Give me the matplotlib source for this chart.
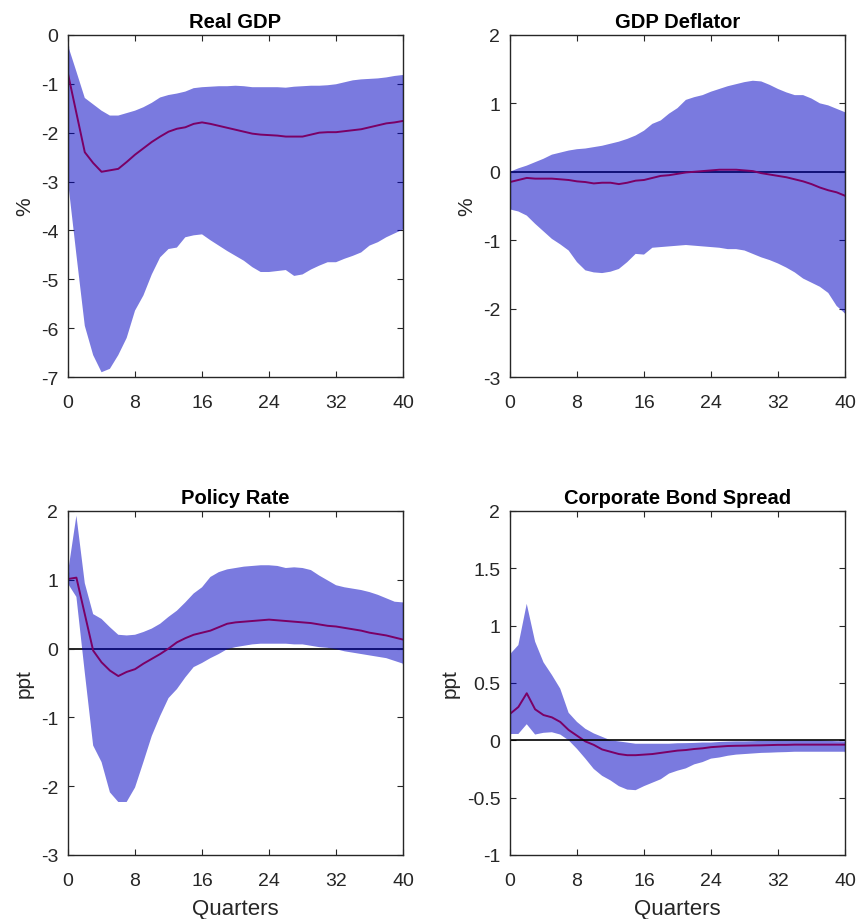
import numpy as np
import matplotlib
matplotlib.use("Agg")
from matplotlib import pyplot as plt

plt.rcParams['font.family'] = ['Liberation Sans', 'DejaVu Sans']
plt.rcParams['axes.unicode_minus'] = False

quarters = np.arange(0, 41)

gdp_median = [-0.80, -1.60, -2.40, -2.62, -2.80, -2.77, -2.74, -2.60, -2.45, -2.32,
              -2.19, -2.08, -1.98, -1.92, -1.89, -1.82, -1.79, -1.82, -1.86, -1.90,
              -1.94, -1.98, -2.02, -2.04, -2.05, -2.06, -2.08, -2.08, -2.08, -2.04,
              -2.00, -1.99, -1.99, -1.97, -1.95, -1.93, -1.89, -1.85, -1.81, -1.79, -1.76]
gdp_upper = [-0.22, -0.75, -1.29, -1.42, -1.55, -1.65, -1.65, -1.60, -1.55, -1.48,
             -1.39, -1.28, -1.23, -1.20, -1.16, -1.09, -1.07, -1.06, -1.05, -1.05,
             -1.04, -1.05, -1.07, -1.07, -1.07, -1.07, -1.08, -1.06, -1.05, -1.04,
             -1.04, -1.03, -1.01, -0.97, -0.93, -0.91, -0.90, -0.89, -0.87, -0.84, -0.82]
gdp_lower = [-3.00, -4.50, -5.95, -6.55, -6.90, -6.83, -6.55, -6.20, -5.64, -5.33,
             -4.90, -4.55, -4.38, -4.35, -4.14, -4.10, -4.08, -4.20, -4.31, -4.42,
             -4.52, -4.62, -4.75, -4.85, -4.85, -4.83, -4.81, -4.93, -4.90, -4.80,
             -4.72, -4.65, -4.65, -4.58, -4.52, -4.45, -4.31, -4.24, -4.14, -4.06, -3.98]

defl_median = [-0.15, -0.12, -0.09, -0.10, -0.10, -0.10, -0.11, -0.12, -0.14, -0.15,
               -0.17, -0.16, -0.16, -0.18, -0.16, -0.13, -0.12, -0.09, -0.06, -0.05,
               -0.03, -0.01, 0.00, 0.01, 0.02, 0.03, 0.03, 0.03, 0.02, 0.01,
               -0.02, -0.04, -0.06, -0.08, -0.11, -0.14, -0.18, -0.23, -0.27, -0.30, -0.35]
defl_upper = [0.00, 0.05, 0.09, 0.14, 0.19, 0.25, 0.28, 0.31, 0.33, 0.34,
              0.36, 0.38, 0.41, 0.44, 0.48, 0.53, 0.60, 0.70, 0.75, 0.85,
              0.93, 1.05, 1.09, 1.12, 1.17, 1.21, 1.25, 1.28, 1.31, 1.33,
              1.32, 1.27, 1.21, 1.16, 1.12, 1.12, 1.07, 1.00, 0.97, 0.92, 0.87]
defl_lower = [-0.55, -0.58, -0.64, -0.76, -0.87, -0.98, -1.06, -1.15, -1.32, -1.44,
              -1.47, -1.48, -1.46, -1.42, -1.32, -1.20, -1.21, -1.11, -1.10, -1.09,
              -1.08, -1.07, -1.08, -1.09, -1.10, -1.11, -1.13, -1.13, -1.15, -1.20,
              -1.25, -1.29, -1.34, -1.40, -1.47, -1.56, -1.62, -1.68, -1.77, -1.96, -2.07]

rate_median = [1.01, 1.03, 0.50, -0.03, -0.20, -0.32, -0.40, -0.34, -0.30, -0.22,
               -0.15, -0.08, 0.00, 0.09, 0.15, 0.20, 0.23, 0.26, 0.31, 0.36,
               0.38, 0.39, 0.40, 0.41, 0.42, 0.41, 0.40, 0.39, 0.38, 0.37,
               0.35, 0.33, 0.32, 0.30, 0.28, 0.26, 0.23, 0.21, 0.19, 0.16, 0.13]
rate_upper = [1.11, 1.93, 0.95, 0.50, 0.43, 0.31, 0.20, 0.19, 0.20, 0.24,
              0.29, 0.36, 0.46, 0.55, 0.67, 0.80, 0.89, 1.04, 1.11, 1.15,
              1.17, 1.19, 1.20, 1.21, 1.21, 1.20, 1.17, 1.18, 1.17, 1.14,
              1.06, 0.99, 0.92, 0.89, 0.87, 0.85, 0.82, 0.78, 0.73, 0.68, 0.67]
rate_lower = [0.94, 0.75, -0.35, -1.41, -1.65, -2.09, -2.23, -2.23, -2.02, -1.65,
              -1.27, -0.98, -0.72, -0.59, -0.42, -0.27, -0.21, -0.14, -0.08, -0.01,
              0.02, 0.04, 0.06, 0.07, 0.07, 0.07, 0.07, 0.06, 0.06, 0.04,
              0.02, 0.01, -0.01, -0.04, -0.06, -0.08, -0.10, -0.12, -0.14, -0.18, -0.22]

spread_median = [0.23, 0.29, 0.41, 0.27, 0.22, 0.20, 0.16, 0.09, 0.04, -0.01,
                 -0.04, -0.08, -0.10, -0.12, -0.13, -0.13, -0.125, -0.12, -0.11, -0.10,
                 -0.09, -0.085, -0.076, -0.07, -0.06, -0.055, -0.05, -0.048, -0.047, -0.045,
                 -0.044, -0.042, -0.04, -0.04, -0.038, -0.038, -0.038, -0.038, -0.038, -0.038, -0.038]
spread_upper = [0.75, 0.83, 1.19, 0.86, 0.68, 0.57, 0.45, 0.24, 0.16, 0.10,
                0.06, 0.03, 0.00, -0.01, -0.02, -0.03, -0.03, -0.03, -0.03, -0.03,
                -0.026, -0.025, -0.023, -0.02, -0.02, -0.015, -0.012, -0.01, -0.01, -0.008,
                -0.005, -0.003, 0.00, 0.00, 0.00, 0.00, 0.00, 0.00, -0.005, -0.008, -0.01]
spread_lower = [0.055, 0.055, 0.14, 0.05, 0.065, 0.07, 0.05, 0.00, -0.075, -0.16,
                -0.25, -0.31, -0.35, -0.40, -0.43, -0.435, -0.40, -0.37, -0.34, -0.29,
                -0.265, -0.245, -0.21, -0.19, -0.16, -0.15, -0.135, -0.125, -0.12, -0.115,
                -0.11, -0.108, -0.105, -0.103, -0.10, -0.10, -0.10, -0.10, -0.10, -0.10, -0.10]

titles = ["Real GDP", "GDP Deflator", "Policy Rate", "Corporate Bond Spread"]
ylabels = ["%", "%", "ppt", "ppt"]
ylims = [(-7, 0), (-3, 2), (-3, 2), (-1, 2)]
ysteps = [1, 1, 1, 0.5]
xticks = [0, 8, 16, 24, 32, 40]

panels = [
    (gdp_median, gdp_upper, gdp_lower),
    (defl_median, defl_upper, defl_lower),
    (rate_median, rate_upper, rate_lower),
    (spread_median, spread_upper, spread_lower),
]

# axes rectangles in figure fractions (859 x 920 px)
rects = [
    [0.0792, 0.589, 0.390, 0.372],
    [0.5937, 0.589, 0.390, 0.372],
    [0.0792, 0.0696, 0.390, 0.374],
    [0.5937, 0.0696, 0.390, 0.374],
]

axis_grey = '#262626'
fill_col = (0.0, 0.0, 0.765)

fig = plt.figure(figsize=(8.59, 9.2), dpi=100)

for i, (med, up, lo) in enumerate(panels):
    ax = fig.add_axes(rects[i])
    # zero line, red median, then translucent band on top (makes the line purple)
    zero_z = 4 if i == 3 else 1
    ax.axhline(0, color='k', lw=1.2, zorder=zero_z)
    ax.plot(quarters, med, color='red', lw=1.4, zorder=2)
    ax.fill_between(quarters, lo, up, facecolor=fill_col, edgecolor='none', alpha=0.52, zorder=3)
    ax.vlines([quarters[0], quarters[-1]], [lo[0], lo[-1]], [up[0], up[-1]],
              color=fill_col, lw=1.0, alpha=0.6, zorder=3)

    ax.set_xlim(0, 40)
    ax.set_ylim(*ylims[i])
    ax.set_xticks(xticks)
    yt = np.arange(ylims[i][0], ylims[i][1] + 0.001, ysteps[i])
    ax.set_yticks(yt)
    ax.set_yticklabels(['%g' % v for v in yt])

    ax.set_title(titles[i], fontsize=14.5, fontweight='bold', pad=6)
    ax.set_ylabel(ylabels[i], fontsize=15, color=axis_grey, labelpad=5)
    if i >= 2:
        ax.set_xlabel("Quarters", fontsize=16, color=axis_grey, labelpad=7)

    ax.tick_params(direction='in', top=True, right=True, length=4, width=0.8,
                   colors=axis_grey, labelsize=14)
    ax.tick_params(axis='x', pad=12)
    ax.tick_params(axis='y', pad=7)
    for s in ax.spines.values():
        s.set_color(axis_grey)
        s.set_linewidth(1.0)
        s.set_zorder(5)

fig.savefig("out.png", dpi=100)
